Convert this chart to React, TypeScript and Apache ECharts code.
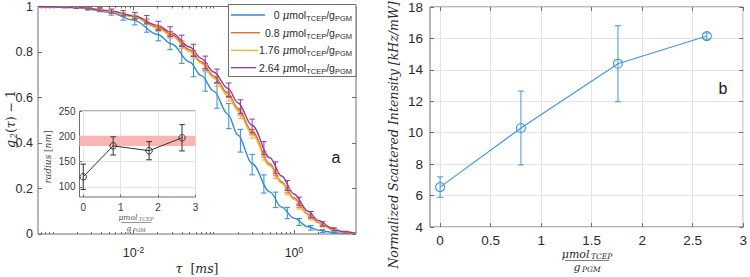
import React, { useEffect, useRef } from 'react';
import * as echarts from 'echarts';

// ---------- data ----------
// Left panel: fitted correlation curves, tau in ms
const TAU_FIT = [0.00065, 0.001, 0.002, 0.005, 0.01, 0.02, 0.03, 0.05, 0.07, 0.1, 0.15, 0.2, 0.3, 0.5, 0.7, 1, 1.5, 2, 3, 4, 5.9];
const FIT_0 = [1.0, 0.998, 0.995, 0.975, 0.94, 0.877, 0.835, 0.756, 0.696, 0.628, 0.527, 0.435, 0.31, 0.185, 0.118, 0.07, 0.032, 0.017, 0.007, 0.003, 0.001];
const FIT_08 = [1.0, 0.999, 0.996, 0.98, 0.957, 0.91, 0.876, 0.81, 0.757, 0.695, 0.618, 0.553, 0.451, 0.308, 0.23, 0.158, 0.087, 0.051, 0.02, 0.009, 0.002];
const FIT_176 = [1.0, 0.999, 0.995, 0.979, 0.954, 0.905, 0.87, 0.802, 0.75, 0.687, 0.607, 0.542, 0.44, 0.3, 0.224, 0.153, 0.084, 0.049, 0.019, 0.008, 0.002];
const FIT_264 = [1.0, 0.999, 0.996, 0.982, 0.96, 0.917, 0.884, 0.822, 0.772, 0.712, 0.64, 0.577, 0.478, 0.335, 0.255, 0.176, 0.1, 0.06, 0.025, 0.011, 0.003];

// Left panel: measured points with error bars
const TAU_PTS = [0.00138, 0.00194, 0.00271, 0.0038, 0.00531, 0.00744, 0.0104, 0.0146, 0.0204, 0.0286, 0.04, 0.056, 0.0784, 0.11, 0.154, 0.215, 0.301, 0.422, 0.59, 0.826, 1.16, 1.62, 2.27, 3.18, 4.45];
const PTS_0 = [0.997, 0.995, 0.99, 0.985, 0.973, 0.955, 0.937, 0.909, 0.875, 0.84, 0.79, 0.737, 0.673, 0.608, 0.518, 0.41, 0.305, 0.22, 0.15, 0.092, 0.053, 0.027, 0.013, 0.006, 0.003];
const ERR_0 = [0.003, 0.004, 0.006, 0.008, 0.011, 0.015, 0.018, 0.022, 0.026, 0.03, 0.04, 0.046, 0.045, 0.055, 0.055, 0.05, 0.045, 0.04, 0.034, 0.025, 0.015, 0.01, 0.006, 0.004, 0.003];
const PTS_08 = [0.998, 0.996, 0.992, 0.986, 0.978, 0.967, 0.955, 0.937, 0.908, 0.88, 0.838, 0.794, 0.738, 0.676, 0.612, 0.535, 0.448, 0.35, 0.266, 0.19, 0.125, 0.073, 0.037, 0.017, 0.006];
const ERR_08 = [0.002, 0.002, 0.003, 0.004, 0.005, 0.006, 0.007, 0.008, 0.009, 0.01, 0.011, 0.012, 0.012, 0.012, 0.012, 0.012, 0.012, 0.011, 0.01, 0.009, 0.008, 0.006, 0.004, 0.003, 0.002];
const PTS_176 = [0.998, 0.996, 0.991, 0.985, 0.977, 0.965, 0.952, 0.932, 0.902, 0.873, 0.83, 0.785, 0.728, 0.665, 0.6, 0.523, 0.437, 0.34, 0.258, 0.184, 0.12, 0.07, 0.035, 0.016, 0.006];
const ERR_176 = [0.002, 0.003, 0.004, 0.005, 0.006, 0.008, 0.009, 0.01, 0.012, 0.013, 0.014, 0.015, 0.016, 0.016, 0.016, 0.016, 0.016, 0.015, 0.014, 0.012, 0.01, 0.008, 0.005, 0.003, 0.002];
const PTS_264 = [0.998, 0.996, 0.993, 0.987, 0.98, 0.97, 0.959, 0.942, 0.915, 0.889, 0.849, 0.807, 0.754, 0.695, 0.634, 0.56, 0.475, 0.378, 0.291, 0.213, 0.144, 0.086, 0.045, 0.021, 0.008];
const ERR_264 = [0.003, 0.004, 0.005, 0.007, 0.009, 0.012, 0.015, 0.018, 0.02, 0.022, 0.025, 0.027, 0.028, 0.03, 0.03, 0.03, 0.03, 0.028, 0.026, 0.022, 0.018, 0.013, 0.009, 0.006, 0.004];

const SERIES_LABELS = ['0', '0.8', '1.76', '2.64'];
const X_LABEL_EXPONENTS = [-2, 0];
const TAU_MIN = 0.000646;
const TAU_MAX = 5.93;

// Inset: hydrodynamic radius vs concentration
const CONC = [0, 0.8, 1.76, 2.64];
const RADIUS = [120, 181, 171.5, 197];
const RADIUS_ERR = [25, 18, 18, 26];
const RADIUS_BAND = [181, 201];
const INSET_X_TICKS = [0, 1, 2, 3];
const INSET_Y_TICKS = [100, 150, 200, 250];

// Right panel: scattered intensity vs concentration
const INTENSITY = [6.54, 10.3, 14.39, 16.15];
const INTENSITY_ERR = [0.65, 2.35, 2.42, 0.2];
const RIGHT_X_TICKS = [0, 0.5, 1, 1.5, 2, 2.5, 3];

// ---------- styles ----------
const SANS = "'Liberation Sans', Arial, Helvetica, sans-serif";
const SERIF = "'DejaVu Serif', 'Liberation Serif', serif";
const COLORS = ['#2f8bd6', '#e8602c', '#f0b22e', '#8e3aa3'];
const RIGHT_BLUE = '#3f97dd';
const AXIS = '#6e6e6e';
const TXT = '#2b2b2b';
const GRIDLINE = '#e4e4e4';

function errorBars(data: number[][], color: string, cap: number, xi: number, yi: number, z: number) {
  return {
    type: 'custom',
    xAxisIndex: xi,
    yAxisIndex: yi,
    z,
    silent: true,
    clip: true,
    encode: { x: 0, y: 1 },
    data,
    renderItem: (_p: any, api: any) => {
      const x = api.value(0);
      const lo = api.value(2);
      const hi = api.value(3);
      const a = api.coord([x, lo]);
      const b = api.coord([x, hi]);
      const st = { stroke: color, lineWidth: 1, fill: 'none' };
      return {
        type: 'group',
        children: [
          { type: 'line', shape: { x1: a[0], y1: a[1], x2: b[0], y2: b[1] }, style: st },
          { type: 'line', shape: { x1: a[0] - cap, y1: a[1], x2: a[0] + cap, y2: a[1] }, style: st },
          { type: 'line', shape: { x1: b[0] - cap, y1: b[1], x2: b[0] + cap, y2: b[1] }, style: st },
        ],
      };
    },
  };
}

const NO_LINE = { show: false, onZero: false };

function buildOption() {
  const lg = Math.log10;
  const xMin = lg(TAU_MIN);
  const xMax = lg(TAU_MAX);
  const major = X_LABEL_EXPONENTS.slice();
  const minor: number[] = [];
  for (let n = -4; n <= 0; n++) {
    for (let k = 1; k <= 9; k++) {
      const v = n + lg(k);
      if (k === 1 && major.indexOf(n) >= 0) continue;
      if (v > xMin + 0.01 && v < xMax - 0.01) minor.push(v);
    }
  }
  const fits = [FIT_0, FIT_08, FIT_176, FIT_264];
  const pts = [PTS_0, PTS_08, PTS_176, PTS_264];
  const errs = [ERR_0, ERR_08, ERR_176, ERR_264];

  const tickStyle = { color: AXIS, width: 1 };
  const mainSeries: any[] = [];
  fits.forEach((f, i) => {
    mainSeries.push({
      type: 'line',
      name: SERIES_LABELS[i],
      xAxisIndex: 0,
      yAxisIndex: 0,
      data: TAU_FIT.map((t, j) => [lg(t), f[j]]),
      symbol: 'none',
      smooth: 0.35,
      smoothMonotone: 'x',
      lineStyle: { color: COLORS[i], width: 1.4 },
      z: 2 + i,
      silent: true,
    });
  });
  pts.forEach((p, i) => {
    const data = TAU_PTS.map((t, j) => [lg(t), p[j], p[j] - errs[i][j], p[j] + errs[i][j]]);
    mainSeries.push(errorBars(data, COLORS[i], 2.8, 0, 0, 10 + i));
  });

  const mainTickLabel = {
    fontSize: 12.5,
    fontFamily: SANS,
    color: TXT,
  };

  const legendRich = {
    n: { fontSize: 10.5, fontFamily: SANS, fill: TXT, lineHeight: 15 },
    m: { fontSize: 10.5, fontFamily: SERIF, fontStyle: 'italic', fill: TXT, lineHeight: 15 },
    s: { fontSize: 7.5, fontFamily: SANS, fill: TXT, verticalAlign: 'bottom' },
  };
  const legendY = [15, 32.7, 50.3, 67.7];
  const legendLineEnd = [265, 260, 258, 256];
  const legendEls: any[] = [
    {
      type: 'rect',
      z: 100,
      shape: { x: 228.5, y: 4.5, width: 127.5, height: 72 },
      style: { fill: '#fff', stroke: '#4a4a4a', lineWidth: 0.8 },
    },
  ];
  SERIES_LABELS.forEach((lab, i) => {
    legendEls.push({
      type: 'line',
      z: 101,
      shape: { x1: 231, y1: legendY[i], x2: legendLineEnd[i], y2: legendY[i] },
      style: { stroke: COLORS[i], lineWidth: 1.3 },
    });
    legendEls.push({
      type: 'text',
      z: 101,
      x: 352,
      y: legendY[i],
      style: {
        text: `{n|${lab} }{m|μ}{n|mol}{s|TCEP}{n|/g}{s|PGM}`,
        rich: legendRich,
        align: 'right',
        verticalAlign: 'middle',
      },
    });
  });

  const serifRich = (size: number, sub: number, color: string, lh?: number) => ({
    i: { fontSize: size, fontFamily: SERIF, fontStyle: 'italic', fill: color, lineHeight: lh ?? size + 5 },
    n: { fontSize: size, fontFamily: SERIF, fill: color, lineHeight: lh ?? size + 5 },
    s: { fontSize: sub, fontFamily: SERIF, fontStyle: 'italic', fill: color, verticalAlign: 'bottom', padding: [0, 0, 0, 1.5] },
  });

  const fraction = (cx: number, numY: number, lineY: number, denY: number, size: number, sub: number, half: number, color: string) => [
    {
      type: 'text',
      x: cx,
      y: numY,
      style: {
        text: '{i|μmol}{s|TCEP}',
        rich: serifRich(size, sub, color, size + 1),
        align: 'center',
        verticalAlign: 'middle',
      },
    },
    {
      type: 'line',
      shape: { x1: cx - half, y1: lineY, x2: cx + half, y2: lineY },
      style: { stroke: color, lineWidth: 0.6 },
    },
    {
      type: 'text',
      x: cx,
      y: denY,
      style: {
        text: '{i|g}{s|PGM}',
        rich: serifRich(size, sub, color, size + 1),
        align: 'center',
        verticalAlign: 'middle',
      },
    },
  ];

  const graphic: any[] = [
    ...legendEls,
    {
      type: 'text',
      x: 10,
      y: 119,
      rotation: Math.PI / 2,
      style: {
        text: '{i|g}{s|2}{n|(}{i|τ}{n|) − 1}',
        rich: serifRich(12.5, 8.5, TXT),
        align: 'center',
        verticalAlign: 'middle',
      },
    },
    {
      type: 'text',
      x: 197,
      y: 268,
      style: {
        text: '{i|τ}{n|  [}{i|ms}{n|]}',
        rich: serifRich(12.5, 8.5, TXT),
        align: 'center',
        verticalAlign: 'middle',
      },
    },
    {
      type: 'text',
      x: 336,
      y: 157,
      style: { text: 'a', fontSize: 16, fontFamily: SANS, fill: '#1a1a1a', align: 'center', verticalAlign: 'middle' },
    },
    {
      type: 'text',
      x: 723,
      y: 88,
      style: { text: 'b', fontSize: 16, fontFamily: SANS, fill: '#1a1a1a', align: 'center', verticalAlign: 'middle' },
    },
    {
      type: 'text',
      x: 393,
      y: 135,
      rotation: Math.PI / 2,
      style: {
        text: 'Normalized Scattered Intensity [kHz/mW]',
        fontSize: 12.5,
        fontFamily: SERIF,
        fontStyle: 'italic',
        fill: TXT,
        align: 'center',
        verticalAlign: 'middle',
      },
    },
    {
      type: 'text',
      x: 48,
      y: 157,
      rotation: Math.PI / 2,
      style: {
        text: '{i|radius}{n| [}{i|nm}{n|]}',
        rich: serifRich(9, 7, '#444'),
        align: 'center',
        verticalAlign: 'middle',
      },
    },
    ...fraction(587, 254.5, 260.5, 267.5, 11, 7.5, 22, TXT),
    ...fraction(136, 217, 222.5, 228.5, 7.5, 5.2, 15, '#555'),
  ];

  return {
    animation: false,
    backgroundColor: '#fff',
    grid: [
      { left: 38, top: 5, width: 318, height: 229, show: true, borderColor: AXIS, borderWidth: 1, backgroundColor: '#fff' },
      { left: 79.5, top: 111, width: 116, height: 86, show: true, borderColor: AXIS, borderWidth: 1, backgroundColor: '#fff' },
      { left: 430, top: 5, width: 317, height: 222, show: true, borderColor: AXIS, borderWidth: 1, backgroundColor: '#fff' },
    ],
    xAxis: [
      {
        type: 'value', gridIndex: 0, min: xMin, max: xMax, position: 'bottom',
        axisLine: NO_LINE, splitLine: { show: false },
        axisTick: { inside: true, length: 4, customValues: major, lineStyle: tickStyle },
        axisLabel: {
          customValues: major,
          margin: 11,
          formatter: (v: number) => `{b|10}{s|${Math.round(v)}}`,
          rich: {
            b: { ...mainTickLabel, lineHeight: 16 },
            s: { fontSize: 8.5, fontFamily: SANS, color: TXT, verticalAlign: 'top' },
          },
        },
      },
      {
        type: 'value', gridIndex: 0, min: xMin, max: xMax, position: 'bottom',
        axisLine: NO_LINE, splitLine: { show: false }, axisLabel: { show: false },
        axisTick: { inside: true, length: 2, customValues: minor, lineStyle: tickStyle },
      },
      {
        type: 'value', gridIndex: 0, min: xMin, max: xMax, position: 'top',
        axisLine: NO_LINE, splitLine: { show: false }, axisLabel: { show: false },
        axisTick: { inside: true, length: 4, customValues: major, lineStyle: tickStyle },
      },
      {
        type: 'value', gridIndex: 0, min: xMin, max: xMax, position: 'top',
        axisLine: NO_LINE, splitLine: { show: false }, axisLabel: { show: false },
        axisTick: { inside: true, length: 2, customValues: minor, lineStyle: tickStyle },
      },
      {
        type: 'value', gridIndex: 1, min: -0.1, max: 3, position: 'bottom',
        axisLine: NO_LINE,
        splitLine: { show: true, lineStyle: { color: GRIDLINE, width: 1 } },
        axisTick: { inside: true, length: 2.5, customValues: INSET_X_TICKS, lineStyle: tickStyle },
        axisLabel: { customValues: INSET_X_TICKS, margin: 5, fontSize: 10, fontFamily: SANS, color: '#3a3a3a' },
      },
      {
        type: 'value', gridIndex: 2, min: -0.1, max: 3, position: 'bottom',
        axisLine: NO_LINE,
        splitLine: { show: true, lineStyle: { color: GRIDLINE, width: 1 } },
        axisTick: { inside: true, length: 4, customValues: RIGHT_X_TICKS, lineStyle: tickStyle },
        axisLabel: { customValues: RIGHT_X_TICKS, margin: 6, fontSize: 13.5, fontFamily: SANS, color: TXT },
      },
      {
        type: 'value', gridIndex: 2, min: -0.1, max: 3, position: 'top',
        axisLine: NO_LINE, splitLine: { show: false }, axisLabel: { show: false },
        axisTick: { inside: true, length: 4, customValues: RIGHT_X_TICKS, lineStyle: tickStyle },
      },
    ],
    yAxis: [
      {
        type: 'value', gridIndex: 0, min: 0, max: 1, interval: 0.2, position: 'left',
        axisLine: NO_LINE, splitLine: { show: false },
        axisTick: { inside: true, length: 4, lineStyle: tickStyle },
        axisLabel: { margin: 5, ...mainTickLabel },
      },
      {
        type: 'value', gridIndex: 0, min: 0, max: 1, interval: 0.2, position: 'right',
        axisLine: NO_LINE, splitLine: { show: false }, axisLabel: { show: false },
        axisTick: { inside: true, length: 4, lineStyle: tickStyle },
      },
      {
        type: 'value', gridIndex: 1, min: 80, max: 250, position: 'left',
        axisLine: NO_LINE,
        splitLine: { show: true, lineStyle: { color: GRIDLINE, width: 1 } },
        axisTick: { inside: true, length: 2.5, customValues: INSET_Y_TICKS, lineStyle: tickStyle },
        axisLabel: { customValues: INSET_Y_TICKS, margin: 4, fontSize: 10, fontFamily: SANS, color: '#3a3a3a' },
      },
      {
        type: 'value', gridIndex: 2, min: 4, max: 18, interval: 2, position: 'left',
        axisLine: NO_LINE,
        splitLine: { show: true, lineStyle: { color: GRIDLINE, width: 1 } },
        axisTick: { inside: true, length: 4, lineStyle: tickStyle },
        axisLabel: { margin: 7, fontSize: 13.5, fontFamily: SANS, color: TXT },
      },
      {
        type: 'value', gridIndex: 2, min: 4, max: 18, interval: 2, position: 'right',
        axisLine: NO_LINE, splitLine: { show: false }, axisLabel: { show: false },
        axisTick: { inside: true, length: 4, lineStyle: tickStyle },
      },
    ],
    series: [
      ...mainSeries,
      {
        type: 'line',
        xAxisIndex: 4,
        yAxisIndex: 2,
        data: CONC.map((c, i) => [c, RADIUS[i]]),
        symbol: 'circle',
        symbolSize: 6.5,
        itemStyle: { color: 'rgba(0,0,0,0)', borderColor: '#333', borderWidth: 1 },
        lineStyle: { color: '#333', width: 1 },
        z: 5,
        silent: true,
        markArea: {
          silent: true,
          itemStyle: { color: '#f9b4b4' },
          data: [[{ yAxis: RADIUS_BAND[0] }, { yAxis: RADIUS_BAND[1] }]],
        },
      },
      errorBars(CONC.map((c, i) => [c, RADIUS[i], RADIUS[i] - RADIUS_ERR[i], RADIUS[i] + RADIUS_ERR[i]]), '#333', 2.8, 4, 2, 6),
      {
        type: 'line',
        xAxisIndex: 5,
        yAxisIndex: 3,
        data: CONC.map((c, i) => [c, INTENSITY[i]]),
        symbol: 'circle',
        symbolSize: 9,
        itemStyle: { color: 'rgba(0,0,0,0)', borderColor: RIGHT_BLUE, borderWidth: 1.1 },
        lineStyle: { color: RIGHT_BLUE, width: 1.1 },
        z: 5,
        silent: true,
      },
      errorBars(CONC.map((c, i) => [c, INTENSITY[i], INTENSITY[i] - INTENSITY_ERR[i], INTENSITY[i] + INTENSITY_ERR[i]]), RIGHT_BLUE, 3, 5, 3, 6),
    ],
    graphic,
  };
}

export default function App() {
  const ref = useRef<HTMLDivElement>(null);
  useEffect(() => {
    if (!ref.current) return;
    const chart = echarts.init(ref.current, undefined, { renderer: 'svg' });
    chart.setOption(buildOption() as any);
    return () => chart.dispose();
  }, []);
  return (
    <div
      ref={ref}
      style={{ position: 'absolute', left: 0, top: 0, width: 750, height: 277, background: '#fff' }}
    />
  );
}
